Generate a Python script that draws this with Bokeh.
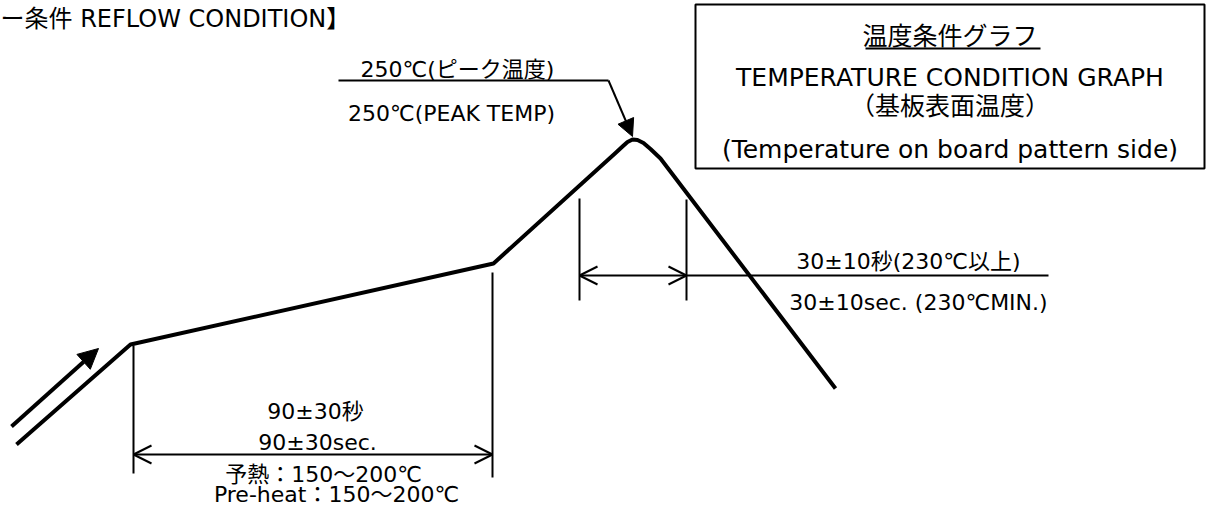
from bokeh.plotting import figure
from bokeh.models import Range1d, Arrow, OpenHead, NormalHead
from bokeh.core.properties import value
from bokeh.embed import file_html
from bokeh.resources import INLINE

# ---- diagram data (schematic coordinates, y grows downward) ----
# temperature profile curve
profile_x = [16, 130, 493, 615, 622, 627, 632, 637, 643, 650, 660, 835]
profile_y = [444, 344, 263, 152.5, 146, 141.5, 139, 139.5, 142.5, 148.5, 158, 388]

# incoming direction arrow
in_arrow_x = [11, 98]
in_arrow_y = [426, 348]

# extension (witness) lines
ext_x = [133, 492, 579, 686]
ext_y0 = [345, 272, 198, 199]
ext_y1 = [473, 477, 300, 300]

# dimension arrows
dim_x0 = [133, 579]
dim_x1 = [492, 686]
dim_y = [454, 275]

# leader line for 30±10 label
lead30_x = [686, 1048]
lead30_y = [275, 275]

# peak leader
peak_lead_x = [338, 608]
peak_lead_y = [80, 80]
peak_arrow_x = [608, 632]
peak_arrow_y = [80, 136]

# legend box
box_left, box_right, box_top, box_bottom = 695, 1204, 4, 168
underline_x = [865, 1040]
underline_y = [48, 48]

# labels
title_text = "ー条件 REFLOW CONDITION】"
box_texts = ["温度条件グラフ", "TEMPERATURE CONDITION GRAPH", "（基板表面温度）",
             "(Temperature on board pattern side)"]
box_text_y = [36, 77, 106, 149]
box_text_base = ["middle", "alphabetic", "middle", "alphabetic"]

labels = ["250℃(ピーク温度)", "250℃(PEAK TEMP)",
          "30±10秒(230℃以上)", "30±10sec. (230℃MIN.)",
          "90±30秒", "90±30sec.",
          "予熱：150～200℃", "Pre-heat：150～200℃"]
label_x = [457, 451, 908, 918, 315, 317, 323, 336]
label_y = [69, 113, 261, 302, 411, 442, 474, 494]

FONT = value("DejaVu Sans, Noto Sans CJK JP")

p = figure(width=1206, height=506, output_backend="svg", toolbar_location=None,
           x_axis_type=None, y_axis_type=None, min_border=0,
           x_range=Range1d(0, 1206), y_range=Range1d(506, 0))
p.outline_line_color = None
p.background_fill_color = "white"
p.border_fill_color = "white"

# title
p.text(x=[0], y=[18], text=[title_text], text_font=FONT, text_font_size="24px",
       text_align="left", text_baseline="alphabetic", text_color="black")

# box
p.quad(left=[box_left], right=[box_right], top=[box_top], bottom=[box_bottom],
       fill_color=None, line_color="black", line_width=2)
for t, yy, b in zip(box_texts, box_text_y, box_text_base):
    p.text(x=[(box_left + box_right) / 2], y=[yy], text=[t], text_font=FONT,
           text_font_size="25px", text_align="center", text_baseline=b,
           text_color="black")
p.line(underline_x, underline_y, line_color="black", line_width=2)

# profile
p.line(profile_x, profile_y, line_color="black", line_width=4, line_join="round")

# incoming arrow
p.add_layout(Arrow(end=NormalHead(size=20, fill_color="black", line_color="black", line_width=1),
                   x_start=in_arrow_x[0], y_start=in_arrow_y[0],
                   x_end=in_arrow_x[1], y_end=in_arrow_y[1],
                   line_width=4, line_color="black"))

# extension lines
p.segment(x0=ext_x, y0=ext_y0, x1=ext_x, y1=ext_y1, line_color="black", line_width=2)

# dimension arrows
for x0, x1, yy in zip(dim_x0, dim_x1, dim_y):
    p.add_layout(Arrow(start=OpenHead(size=18, line_width=2, line_color="black"),
                       end=OpenHead(size=18, line_width=2, line_color="black"),
                       x_start=x0, y_start=yy, x_end=x1, y_end=yy,
                       line_width=2, line_color="black"))
p.line(lead30_x, lead30_y, line_color="black", line_width=2)

# peak leader
p.line(peak_lead_x, peak_lead_y, line_color="black", line_width=2)
p.add_layout(Arrow(end=NormalHead(size=17, fill_color="black", line_color="black", line_width=1),
                   x_start=peak_arrow_x[0], y_start=peak_arrow_y[0],
                   x_end=peak_arrow_x[1], y_end=peak_arrow_y[1],
                   line_width=2, line_color="black"))

# labels
p.text(x=label_x, y=label_y, text=labels, text_font=FONT, text_font_size="22px",
       text_align="center", text_baseline="alphabetic", text_color="black")

open("out.html", "w").write(file_html(p, INLINE))
